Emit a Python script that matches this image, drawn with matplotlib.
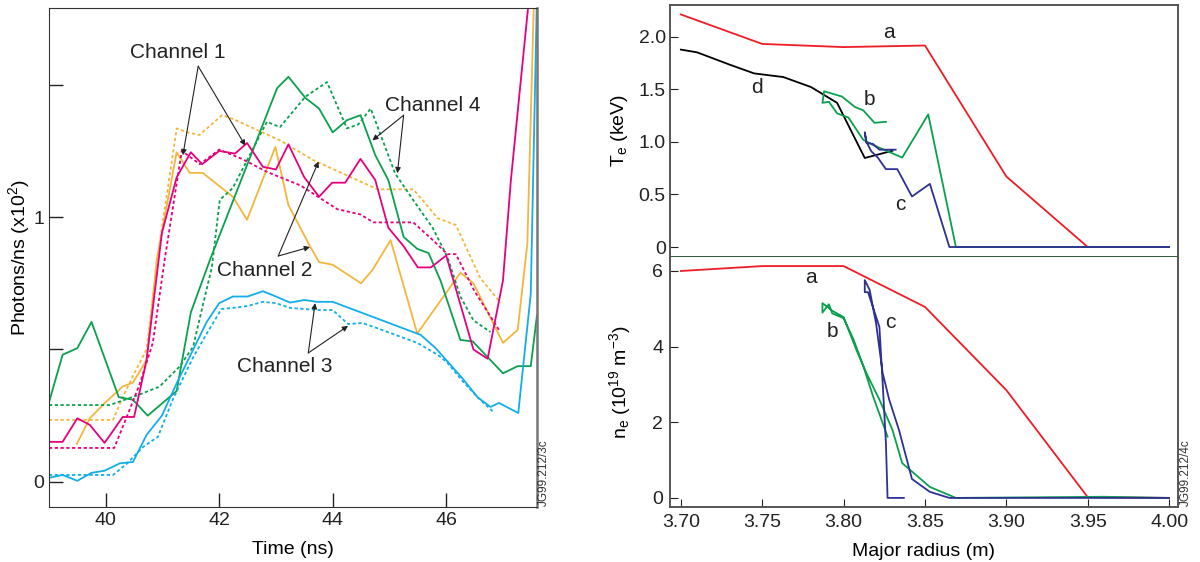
import matplotlib as mpl
mpl.use('Agg')
import matplotlib.pyplot as plt

plt.rcParams['font.family'] = ['Liberation Sans', 'DejaVu Sans']
plt.rcParams['mathtext.fontset'] = 'custom'
plt.rcParams['mathtext.rm'] = 'Liberation Sans'
plt.rcParams['mathtext.it'] = 'Liberation Sans'

MAGENTA = '#e6007e'
ORANGE = '#f4b63c'
GREEN = '#0aa04e'
CYAN = '#12aeea'
RED = '#ee1c25'
NAVY = '#2e3192'
SPINE = '#555555'

# ---- left panel: photons/ns vs time (ns) ----
ch1_t = [39.0, 39.24, 39.5, 39.72, 39.98, 40.3, 40.5, 40.72, 40.99, 41.25, 41.5, 41.7, 42.0,
         42.28, 42.49, 42.77, 43.0, 43.22, 43.5, 43.76, 43.99, 44.22, 44.49, 44.75, 44.98,
         45.25, 45.5, 45.73, 46.0, 46.48, 46.73, 47.0, 47.14, 47.31, 47.47]
ch1_v = [0.151, 0.151, 0.24, 0.215, 0.147, 0.245, 0.245, 0.46, 0.94, 1.15, 1.245, 1.20, 1.25,
         1.24, 1.28, 1.19, 1.18, 1.275, 1.15, 1.077, 1.13, 1.13, 1.22, 1.14, 0.96,
         0.89, 0.81, 0.81, 0.855, 0.50, 0.465, 0.76, 1.14, 1.506, 1.85]
ch1d_t = [39.0, 40.15, 40.37, 40.6, 40.83, 41.04, 41.34, 41.66, 42.0, 42.4, 42.85, 43.43,
          44.08, 44.49, 44.72, 45.42, 45.78, 46.02, 46.17, 46.5, 46.93]
ch1d_v = [0.128, 0.128, 0.245, 0.37, 0.525, 0.84, 1.25, 1.20, 1.255, 1.22, 1.17, 1.12,
          1.03, 1.01, 0.98, 0.98, 0.91, 0.86, 0.86, 0.72, 0.574]

ch2_t = [39.49, 39.72, 39.98, 40.3, 40.48, 40.72, 40.9, 41.25, 41.48, 41.71, 42.24, 42.49,
         42.99, 43.22, 43.6, 43.76, 44.0, 44.5, 44.7, 45.02, 45.49, 46.25, 46.48, 47.0,
         47.26, 47.43, 47.55]
ch2_v = [0.143, 0.24, 0.297, 0.36, 0.375, 0.46, 0.84, 1.245, 1.167, 1.167, 1.077, 0.99,
         1.265, 1.045, 0.89, 0.83, 0.82, 0.75, 0.80, 0.913, 0.56, 0.79, 0.75, 0.525,
         0.574, 0.9, 1.85]
ch2d_t = [39.0, 40.13, 40.28, 40.48, 40.72, 40.95, 41.25, 41.45, 41.65, 42.05, 42.25,
          43.07, 43.66, 44.79, 45.42, 45.85, 46.17, 46.6, 46.96]
ch2d_v = [0.234, 0.234, 0.31, 0.40, 0.50, 0.90, 1.335, 1.32, 1.31, 1.385, 1.37,
          1.29, 1.215, 1.105, 1.105, 0.996, 0.97, 0.77, 0.676]

ch3_t = [39.0, 39.24, 39.5, 39.75, 39.98, 40.25, 40.48, 40.72, 40.99, 41.25, 41.51, 41.78,
         42.0, 42.24, 42.5, 42.77, 43.0, 43.25, 43.5, 43.72, 44.0, 45.55, 45.81, 46.29,
         46.55, 46.78, 46.93, 47.27, 47.49, 47.6]
ch3_v = [0.015, 0.026, 0.004, 0.034, 0.042, 0.07, 0.075, 0.177, 0.25, 0.372, 0.486, 0.604,
         0.675, 0.70, 0.70, 0.72, 0.70, 0.677, 0.687, 0.68, 0.68, 0.555, 0.506, 0.39,
         0.32, 0.283, 0.298, 0.26, 0.71, 1.85]
ch3d_t = [39.0, 40.13, 40.37, 40.66, 40.92, 41.18, 41.54, 41.78, 42.04, 42.24, 42.5, 42.77,
          43.0, 43.25, 43.5, 43.75, 44.0, 44.27, 44.52, 44.79, 45.49, 45.85, 46.02, 46.3,
          46.55, 46.83]
ch3d_v = [0.026, 0.026, 0.068, 0.132, 0.17, 0.31, 0.47, 0.56, 0.653, 0.657, 0.664, 0.68,
          0.675, 0.657, 0.653, 0.649, 0.649, 0.596, 0.60, 0.58, 0.525, 0.48, 0.45, 0.378,
          0.32, 0.264]

ch4_t = [39.0, 39.24, 39.5, 39.75, 40.23, 40.48, 40.74, 41.25, 41.5, 41.84, 43.02, 43.22,
         43.52, 43.76, 44.0, 44.25, 44.49, 44.75, 44.98, 45.25, 45.49, 45.69, 45.9, 46.25,
         46.47, 47.0, 47.26, 47.49, 47.6]
ch4_v = [0.30, 0.48, 0.505, 0.604, 0.32, 0.31, 0.25, 0.343, 0.64, 0.84, 1.487, 1.53,
         1.45, 1.41, 1.32, 1.366, 1.385, 1.234, 1.14, 0.925, 0.88, 0.864, 0.76, 0.536,
         0.53, 0.41, 0.437, 0.437, 0.63]
ch4d_t = [39.0, 40.07, 40.6, 40.95, 41.3, 41.54, 41.72, 41.87, 42.01, 42.24, 42.84, 43.07,
          43.52, 43.9, 44.25, 44.45, 44.67, 45.1, 45.42, 45.76, 46.02, 46.25, 46.48, 46.78]
ch4d_v = [0.29, 0.29, 0.33, 0.36, 0.435, 0.51, 0.675, 0.81, 1.065, 1.11, 1.36, 1.34,
          1.455, 1.51, 1.335, 1.35, 1.41, 1.165, 1.064, 0.96, 0.85, 0.70, 0.61, 0.566]

# ---- right panels: profiles vs major radius (m) ----
te_a_r = [3.70, 3.75, 3.80, 3.85, 3.90, 3.95, 4.00]
te_a = [2.21, 1.93, 1.90, 1.915, 0.67, 0.0, 0.0]
te_d_r = [3.70, 3.71, 3.73, 3.745, 3.763, 3.78, 3.796, 3.813, 3.83]
te_d = [1.876, 1.85, 1.733, 1.65, 1.615, 1.52, 1.37, 0.846, 0.915]
te_b_r = [3.826, 3.819, 3.812, 3.807, 3.799, 3.788, 3.787, 3.791, 3.796, 3.803, 3.812,
          3.818, 3.836, 3.852, 3.869, 4.00]
te_b = [1.19, 1.18, 1.30, 1.33, 1.43, 1.48, 1.37, 1.38, 1.27, 1.23, 1.02,
        0.97, 0.85, 1.26, 0.0, 0.0]
te_c_r = [3.832, 3.822, 3.818, 3.814, 3.813, 3.814, 3.817, 3.821, 3.826, 3.833, 3.842,
          3.853, 3.865, 4.00]
te_c = [0.925, 0.925, 0.98, 0.99, 1.09, 1.0, 0.91, 0.85, 0.74, 0.74, 0.48,
        0.60, 0.0, 0.0]

ne_a_r = [3.70, 3.75, 3.80, 3.85, 3.90, 3.95, 4.00]
ne_a = [6.0, 6.13, 6.13, 5.05, 2.85, 0.02, 0.0]
ne_b_r = [3.827, 3.818, 3.812, 3.806, 3.80, 3.793, 3.791, 3.787, 3.787, 3.793, 3.80,
          3.808, 3.814, 3.822, 3.83, 3.836, 3.853, 3.869, 3.96, 4.00]
ne_b = [1.62, 2.7, 3.5, 4.2, 4.75, 4.88, 5.12, 4.9, 5.15, 4.95, 4.78,
        3.9, 3.3, 2.6, 1.8, 0.92, 0.29, 0.0, 0.03, 0.0]
ne_c_r = [3.837, 3.827, 3.826, 3.824, 3.822, 3.815, 3.813, 3.813, 3.816, 3.820, 3.824,
          3.828, 3.834, 3.842, 3.853, 3.865, 4.00]
ne_c = [0.0, 0.0, 1.45, 3.04, 4.52, 5.44, 5.44, 5.76, 5.5, 4.6, 3.3,
        2.6, 1.8, 0.5, 0.16, 0.0, 0.0]

fig = plt.figure(figsize=(12, 5.62), dpi=100)

# Left panel.
ax = fig.add_axes([0.0408, 0.0979, 0.4067, 0.8879])
lw = 1.3
dot = (0, (1.8, 1.4))
ax.plot(ch2d_t, ch2d_v, color=ORANGE, lw=lw, ls=dot)
ax.plot(ch2_t, ch2_v, color=ORANGE, lw=lw)
ax.plot(ch4d_t, ch4d_v, color=GREEN, lw=lw, ls=dot)
ax.plot(ch4_t, ch4_v, color=GREEN, lw=lw)
ax.plot(ch1d_t, ch1d_v, color=MAGENTA, lw=lw, ls=dot)
ax.plot(ch1_t, ch1_v, color=MAGENTA, lw=lw)
ax.plot(ch3d_t, ch3d_v, color=CYAN, lw=lw, ls=dot)
ax.plot(ch3_t, ch3_v, color=CYAN, lw=lw)

ax.set_xlim(39.0, 47.6)
ax.set_ylim(-0.095, 1.79)
ax.set_xticks([40, 42, 44, 46])
ax.set_yticks([0, 0.5, 1, 1.5])
ax.set_yticklabels(['0', '', '1', ''])
ax.tick_params(direction='in', length=10, width=1, labelsize=14, colors='#222222')
ax.set_xlabel('Time (ns)', fontsize=14, labelpad=9)
ax.set_ylabel('Photons/ns (x10$^2$)', fontsize=14, labelpad=1)
for s in ax.spines.values():
    s.set_color('#333333')
ax.spines['right'].set_color('#777777')
ax.spines['right'].set_linewidth(1.8)

arrow = dict(arrowstyle='-|>', color='#222222', lw=0.8, mutation_scale=8,
             shrinkA=0, shrinkB=0)
labels = [('Channel 1', (41.27, 1.62), (41.63, 1.57), [(41.36, 1.234), (42.46, 1.27)]),
          ('Channel 2', (42.81, 0.80), (43.04, 0.853), [(43.75, 1.21), (43.6, 0.887)]),
          ('Channel 3', (43.16, 0.434), (43.57, 0.487), [(43.69, 0.675), (44.27, 0.589)]),
          ('Channel 4', (45.76, 1.423), (45.25, 1.385), [(44.7, 1.29), (45.14, 1.166)])]
for name, pos, origin, tips in labels:
    ax.text(pos[0], pos[1], name, fontsize=15, ha='center', va='center', color='#222222')
    for tip in tips:
        ax.annotate('', xy=tip, xytext=origin, arrowprops=arrow)

fig.text(0.4535, 0.10, 'JG99.212/3c', rotation=90, fontsize=8.5, va='bottom', ha='center',
         color='#333333')

# Right top panel: Te.
ax1 = fig.add_axes([0.5583, 0.5427, 0.4234, 0.4484])
ax1.plot(te_a_r, te_a, color=RED, lw=lw)
ax1.plot(te_d_r, te_d, color='black', lw=lw)
ax1.plot(te_b_r, te_b, color=GREEN, lw=lw)
ax1.plot(te_c_r, te_c, color=NAVY, lw=lw)
ax1.set_xlim(3.6933, 4.0055)
ax1.set_ylim(-0.095, 2.30)
ax1.set_yticks([0, 0.5, 1.0, 1.5, 2.0])
ax1.set_yticklabels(['0', '0.5', '1.0', '1.5', '2.0'])
ax1.set_xticks([])
ax1.tick_params(axis='y', direction='in', length=5.5, labelsize=14, colors='#222222',
                pad=3)
ax1.set_ylabel('T$_\\mathregular{e}$ (keV)', fontsize=14, labelpad=6)
for txt, x, y in [('a', 3.828, 2.04), ('b', 3.816, 1.40), ('c', 3.835, 0.40),
                  ('d', 3.747, 1.52)]:
    ax1.text(x, y, txt, fontsize=15, ha='center', va='center', color='#222222')

# Right bottom panel: ne.
ax2 = fig.add_axes([0.5583, 0.0979, 0.4234, 0.4448])
ax2.plot(ne_a_r, ne_a, color=RED, lw=lw)
ax2.plot(ne_b_r, ne_b, color=GREEN, lw=lw)
ax2.plot(ne_c_r, ne_c, color=NAVY, lw=lw)
ax2.set_xlim(3.6933, 4.0055)
ax2.set_ylim(-0.24, 6.37)
ax2.set_yticks([0, 2, 4, 6])
ax2.set_xticks([3.70, 3.75, 3.80, 3.85, 3.90, 3.95, 4.00])
ax2.set_xticklabels(['3.70', '3.75', '3.80', '3.85', '3.90', '3.95', '4.00'])
ax2.tick_params(direction='in', length=5.5, labelsize=14, colors='#222222', pad=5)
ax2.set_xlabel('Major radius (m)', fontsize=14, labelpad=9)
ax2.set_ylabel('n$_\\mathregular{e}$ (10$^{\\mathregular{19}}$ m$^{-3}$)', fontsize=14,
               labelpad=14)
for txt, x, y in [('a', 3.780, 5.84), ('b', 3.793, 4.39), ('c', 3.829, 4.65)]:
    ax2.text(x, y, txt, fontsize=15, ha='center', va='center', color='#222222')

for a in (ax1, ax2):
    for s in a.spines.values():
        s.set_color(SPINE)
        s.set_linewidth(1.4)
ax1.spines['bottom'].set_color('#2d5a3a')
ax2.spines['top'].set_visible(False)

fig.text(0.988, 0.10, 'JG99.212/4c', rotation=90, fontsize=8.5, va='bottom', ha='center',
         color='#333333')

fig.savefig('out.png', dpi=100)
